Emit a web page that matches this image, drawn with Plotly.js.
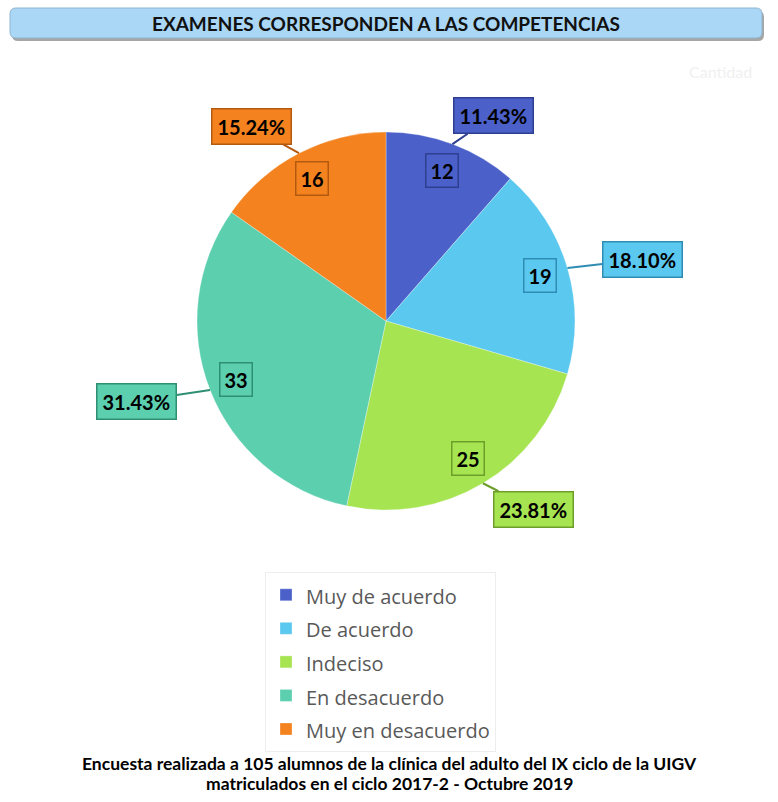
<!DOCTYPE html>
<html>
<head>
<meta charset="utf-8">
<script src="https://cdn.plot.ly/plotly-3.0.1.min.js"></script>
<style>html,body{margin:0;padding:0;background:#fff;}#chart{width:778px;height:802px;}</style>
</head>
<body>
<div id="chart"></div>
<script>
// ---- data ----
const categories = ['Muy de acuerdo', 'De acuerdo', 'Indeciso', 'En desacuerdo', 'Muy en desacuerdo'];
const counts = [12, 19, 25, 33, 16];
const sliceColors = ['#4B61C9', '#5BC8EF', '#A6E451', '#5BCFAE', '#F4821F'];
const boxBorders = ['#2E3F8F', '#2F8DB3', '#6E9E2A', '#2F8F73', '#B35A10'];
const chartTitle = 'EXAMENES CORRESPONDEN A LAS COMPETENCIAS';
const footerLines = [
  'Encuesta realizada a 105 alumnos de la clínica del adulto del IX ciclo de la UIGV',
  'matriculados en el ciclo 2017-2 - Octubre 2019'
];
const seriesName = 'Cantidad';

// ---- layout helpers ----
const W = 778, H = 802;
const px = x => x / W;
const py = y => 1 - y / H;
const CX = 386, CY = 321, R = 189;
const FONT = 'Lato, "Open Sans", sans-serif';

const total = counts.reduce((a, b) => a + b, 0);
const percents = counts.map(c => (c / total * 100).toFixed(2) + '%');

const annotations = [];
let cum = 0;
counts.forEach((c, i) => {
  const mid = (cum + c / 2) / total * 2 * Math.PI;
  cum += c;
  const s = Math.sin(mid), co = Math.cos(mid);
  // value label inside slice
  const rv = R * 0.85;
  annotations.push({
    xref: 'paper', yref: 'paper',
    x: px(CX + rv * s), y: py(CY - rv * co),
    xanchor: 'center', yanchor: 'middle',
    text: '<b>' + c + '</b>', showarrow: false,
    font: {family: FONT, size: 20, color: '#000'},
    bgcolor: sliceColors[i], bordercolor: boxBorders[i], borderwidth: 1.5, borderpad: 4
  });
  // percentage callout
  annotations.push({
    xref: 'paper', yref: 'paper',
    x: px(CX + R * s), y: py(CY - R * co),
    ax: 55 * s + 22 * Math.sign(s), ay: -30 * co,
    text: '<b>' + percents[i] + '</b>', showarrow: true,
    arrowhead: 0, arrowwidth: 2, arrowcolor: boxBorders[i],
    font: {family: FONT, size: 20, color: '#000'},
    bgcolor: sliceColors[i], bordercolor: boxBorders[i], borderwidth: 1.5, borderpad: 5
  });
});

// title text
annotations.push({
  xref: 'paper', yref: 'paper', x: px(386), y: py(23), xanchor: 'center', yanchor: 'middle',
  text: '<b>' + chartTitle + '</b>', showarrow: false,
  font: {family: FONT, size: 19, color: '#111'}
});
// faint series name
annotations.push({
  xref: 'paper', yref: 'paper', x: px(720), y: py(72), xanchor: 'center', yanchor: 'middle',
  text: seriesName, showarrow: false,
  font: {family: FONT, size: 16, color: '#F0F0F0'}
});
// footer
footerLines.forEach((t, k) => {
  annotations.push({
    xref: 'paper', yref: 'paper', x: px(390), y: py(763 + 20 * k), xanchor: 'center', yanchor: 'middle',
    text: '<b>' + t + '</b>', showarrow: false,
    font: {family: FONT, size: 17.5, color: '#000'}
  });
});

function roundRect(x0, y0, x1, y1, r) {
  const rx = r / W, ry = r / H;
  const X0 = px(x0), X1 = px(x1), Y0 = py(y0), Y1 = py(y1);
  return `M${X0 + rx},${Y0} L${X1 - rx},${Y0} Q${X1},${Y0} ${X1},${Y0 - ry} L${X1},${Y1 + ry} Q${X1},${Y1} ${X1 - rx},${Y1} L${X0 + rx},${Y1} Q${X0},${Y1} ${X0},${Y1 + ry} L${X0},${Y0 - ry} Q${X0},${Y0} ${X0 + rx},${Y0} Z`;
}

const shapes = [
  {type: 'path', xref: 'paper', yref: 'paper', path: roundRect(12, 11, 764, 41, 6), fillcolor: 'rgba(0,0,0,0.35)', line: {width: 0}, layer: 'below'},
  {type: 'path', xref: 'paper', yref: 'paper', path: roundRect(10, 8, 762, 38, 6), fillcolor: '#AAD7F5', line: {color: '#8FB4CF', width: 1}, layer: 'below'}
];

const trace = {
  type: 'pie',
  labels: categories.map(c => '<span style="font-size:20px">' + c + '</span>'),
  values: counts,
  sort: false,
  direction: 'clockwise',
  rotation: 0,
  textinfo: 'none',
  hoverinfo: 'label+value+percent',
  marker: {colors: sliceColors, line: {color: 'rgba(255,255,255,0.5)', width: 0.6}},
  domain: {x: [px(CX - R), px(CX + R)], y: [py(CY + R), py(CY - R)]},
  showlegend: true
};

const layout = {
  width: W, height: H,
  margin: {l: 0, r: 0, t: 0, b: 0},
  paper_bgcolor: '#fff',
  showlegend: true,
  legend: {
    x: px(265), y: py(572), xanchor: 'left', yanchor: 'top',
    font: {family: '"Open Sans", sans-serif', size: 23.5, color: '#595959'},
    bgcolor: '#fff', bordercolor: '#EDEDED', borderwidth: 1
  },
  shapes: shapes,
  annotations: annotations
};

Plotly.newPlot('chart', [trace], layout, {displayModeBar: false, staticPlot: true});
</script>
</body>
</html>
